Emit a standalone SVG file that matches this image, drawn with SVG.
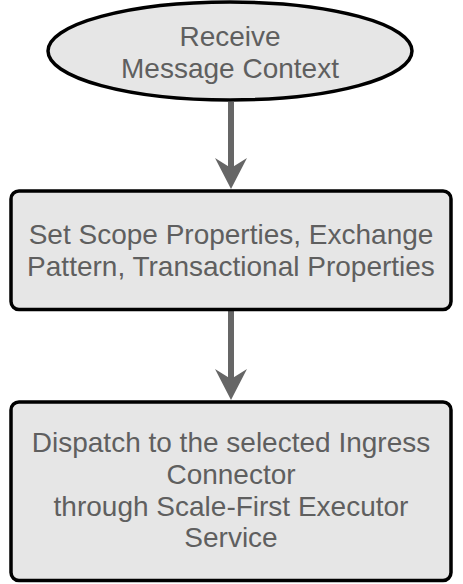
<svg xmlns="http://www.w3.org/2000/svg" width="463" height="584" viewBox="0 0 463 584">
<style>
.node{fill:#e6e6e6;stroke:#000;stroke-width:3.5}
.lbl{font-family:"Liberation Sans",Arial,sans-serif;font-size:28px;fill:#5f5f5f;text-anchor:middle}
.shaft{stroke:#666;stroke-width:6;fill:none}
.head{fill:#666;stroke:none}
</style>
<rect width="463" height="584" fill="#fff"/>
<g id="connectors">
<line class="shaft" x1="231" y1="102" x2="231" y2="170"/>
<path class="head" d="M231 189 L215 158 L231 168 L247 158 Z"/>
<line class="shaft" x1="231" y1="310" x2="231" y2="382"/>
<path class="head" d="M231 400 L215 369 L231 379 L247 369 Z"/>
</g>
<g id="receive">
<ellipse class="node" cx="230" cy="51" rx="182" ry="49"/>
<text class="lbl" x="230" y="46">Receive</text>
<text class="lbl" x="230" y="78">Message Context</text>
</g>
<g id="setscope">
<rect class="node" x="11" y="191" width="440" height="118.5" rx="8"/>
<text class="lbl" x="231" y="244">Set Scope Properties, Exchange</text>
<text class="lbl" x="231" y="276">Pattern, Transactional Properties</text>
</g>
<g id="dispatch">
<rect class="node" x="11" y="402" width="440" height="178.5" rx="8"/>
<text class="lbl" x="231" y="452">Dispatch to the selected Ingress</text>
<text class="lbl" x="231" y="484">Connector</text>
<text class="lbl" x="231" y="516">through Scale-First Executor</text>
<text class="lbl" x="231" y="547">Service</text>
</g>
</svg>
